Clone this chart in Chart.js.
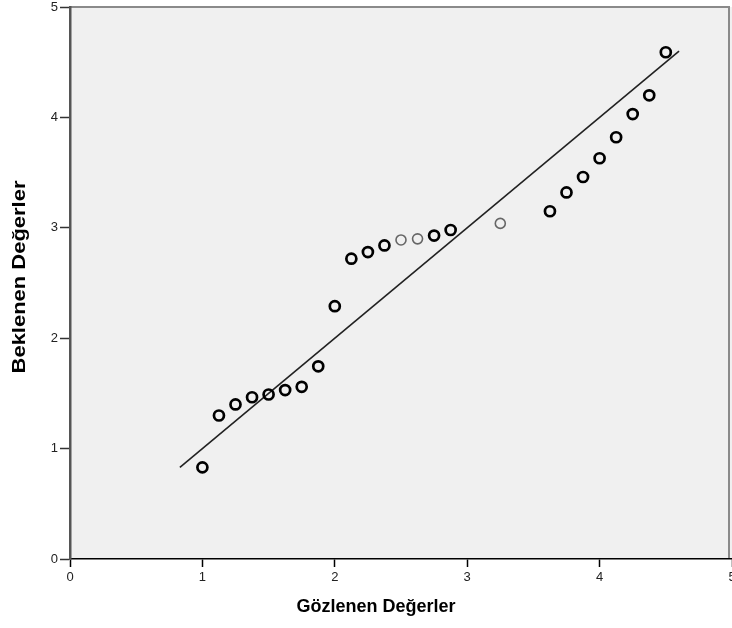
<!DOCTYPE html>
<html>
<head>
<meta charset="utf-8">
<script src="https://cdn.jsdelivr.net/npm/chart.js@4/dist/chart.umd.min.js"></script>
<style>
  html, body { margin: 0; padding: 0; background: #fff; overflow: hidden; }
  #wrap { width: 732px; height: 628px; }
</style>
</head>
<body>
<div id="wrap"><canvas id="qqChart"></canvas></div>
<script>
// Observed vs expected values (Q-Q plot)
const observed = [1.0, 1.125, 1.25, 1.375, 1.5, 1.625, 1.75, 1.875, 2.0, 2.125, 2.25, 2.375,
                  2.75, 2.875, 3.625, 3.75, 3.875, 4.0, 4.125, 4.25, 4.375, 4.5];
const expected = [0.83, 1.30, 1.40, 1.465, 1.49, 1.53, 1.56, 1.745, 2.29, 2.72, 2.78, 2.84,
                  2.93, 2.98, 3.15, 3.32, 3.46, 3.63, 3.82, 4.03, 4.20, 4.59];
// points drawn lighter in the original
const observedLight = [2.5, 2.625, 3.25];
const expectedLight = [2.89, 2.90, 3.04];
// reference line
const lineX = [0.83, 4.6];
const lineY = [0.83, 4.6];
const tickValues = [0, 1, 2, 3, 4, 5];

const xTitle = 'Gözlenen Değerler';
const yTitle = 'Beklenen Değerler';

const toPoints = (xs, ys) => xs.map((x, i) => ({ x: x, y: ys[i] }));

const plotFrame = {
    id: 'plotFrame',
    beforeDraw(chart) {
        const a = chart.chartArea;
        const c = chart.ctx;
        c.save();
        c.fillStyle = '#f0f0f0';
        c.fillRect(a.left, a.top, a.right - a.left, a.bottom - a.top);
        c.strokeStyle = '#8a8a8a';
        c.lineWidth = 2;
        c.beginPath();
        c.moveTo(a.left, a.top);
        c.lineTo(a.right - 3, a.top);
        c.lineTo(a.right - 3, a.bottom);
        c.stroke();
        c.restore();
    },
    afterDraw(chart) {
        const c = chart.ctx;
        c.save();
        c.fillStyle = '#000';
        c.font = 'bold 18px "Liberation Sans", Arial, sans-serif';
        c.textAlign = 'center';
        c.textBaseline = 'middle';
        c.fillText(xTitle, 376, 607);
        c.translate(20, 277);
        c.rotate(-Math.PI / 2);
        c.scale(1.22, 1);
        c.fillText(yTitle, 0, 0);
        c.restore();
    }
};

new Chart(document.getElementById('qqChart'), {
    type: 'scatter',
    data: {
        datasets: [{
            type: 'line',
            data: toPoints(lineX, lineY),
            borderColor: '#222',
            borderWidth: 1.6,
            pointRadius: 0,
            fill: false,
            order: 2
        }, {
            data: toPoints(observedLight, expectedLight),
            pointRadius: 5,
            pointBorderWidth: 1.6,
            pointBorderColor: '#666',
            pointBackgroundColor: 'rgba(0,0,0,0)',
            order: 1
        }, {
            data: toPoints(observed, expected),
            pointRadius: 5,
            pointBorderWidth: 2.7,
            pointBorderColor: '#000',
            pointBackgroundColor: 'rgba(0,0,0,0)',
            order: 0
        }]
    },
    options: {
        responsive: true,
        maintainAspectRatio: false,
        animation: false,
        layout: {
            autoPadding: false,
            padding: { left: 0, right: 0, top: 7, bottom: 0 }
        },
        scales: {
            x: {
                type: 'linear',
                min: 0,
                max: 5,
                afterBuildTicks: function (scale) {
                    scale.ticks = tickValues.map(v => ({ value: v }));
                },
                afterFit: function (scale) {
                    scale.height = 69;
                    scale.paddingLeft = 0;
                    scale.paddingRight = 0;
                },
                grid: { drawOnChartArea: false, drawTicks: true, tickLength: 8, color: '#000', tickWidth: 1.5 },
                border: { color: '#000', width: 1.5 },
                ticks: { color: '#222', padding: 3, font: { size: 13, family: '"Liberation Sans", Arial, sans-serif' }, maxRotation: 0 }
            },
            y: {
                type: 'linear',
                min: 0,
                max: 5,
                afterBuildTicks: function (scale) {
                    scale.ticks = tickValues.map(v => ({ value: v }));
                },
                afterFit: function (scale) {
                    scale.width = 70;
                    scale.paddingTop = 0;
                    scale.paddingBottom = 0;
                },
                grid: { drawOnChartArea: false, drawTicks: true, tickLength: 10, color: '#333', tickWidth: 1.5 },
                border: { color: '#555', width: 2.5 },
                ticks: { color: '#222', padding: 2, font: { size: 13, family: '"Liberation Sans", Arial, sans-serif' } }
            }
        },
        plugins: {
            legend: { display: false },
            tooltip: { enabled: false }
        }
    },
    plugins: [plotFrame]
});
</script>
</body>
</html>
